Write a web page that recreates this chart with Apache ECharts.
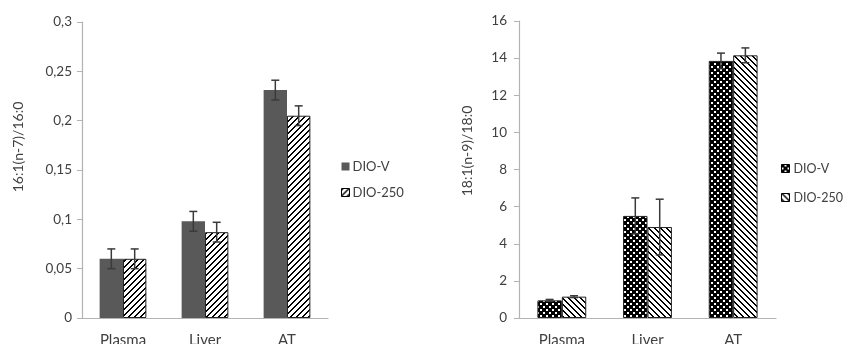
<!DOCTYPE html>
<html>
<head>
<meta charset="utf-8">
<script src="https://cdn.jsdelivr.net/npm/echarts@6/dist/echarts.min.js"></script>
<style>
  html, body { margin: 0; padding: 0; background: #fff; }
  #chart { width: 843px; height: 344px; }
</style>
</head>
<body>
<div id="chart"></div>
<script>
// Tissue categories shared by both panels
var categories = ['Plasma', 'Liver', 'AT'];
var seriesNames = ['DIO-V', 'DIO-250'];

// Panel A: 16:1(n-7)/16:0 desaturation index
var ratio16V = [0.060, 0.098, 0.231];
var ratio16V_err = [0.010, 0.010, 0.010];
var ratio16D = [0.060, 0.087, 0.205];
var ratio16D_err = [0.010, 0.010, 0.010];
var ticks16 = [0, 0.05, 0.1, 0.15, 0.2, 0.25, 0.3];

// Panel B: 18:1(n-9)/18:0 desaturation index
var ratio18V = [0.95, 5.5, 13.85];
var ratio18V_err = [0.05, 0.97, 0.42];
var ratio18D = [1.15, 4.9, 14.15];
var ratio18D_err = [0.05, 1.5, 0.40];
var ticks18 = [0, 2, 4, 6, 8, 10, 12, 14, 16];

// ---- fill patterns ----
function makeTile(size, fn) {
  var c = document.createElement('canvas');
  c.width = size; c.height = size;
  var ctx = c.getContext('2d');
  ctx.fillStyle = '#ffffff';
  ctx.fillRect(0, 0, size, size);
  ctx.fillStyle = '#000000';
  for (var y = 0; y < size; y++) {
    for (var x = 0; x < size; x++) {
      if (fn(x, y, size)) ctx.fillRect(x, y, 1, 1);
    }
  }
  return { image: c, repeat: 'repeat' };
}
// upward diagonal stripes ("/")
var stripeUp = makeTile(6, function (x, y, s) { return ((x + y) % s) < 2; });
// downward diagonal stripes ("\")
var stripeDown = makeTile(6, function (x, y, s) { return ((x - y + s * 4) % s) < 2; });
// checkerboard, slightly heavier on black
var checker = makeTile(6, function (x, y) {
  var cx = Math.floor(x / 3), cy = Math.floor(y / 3);
  var white = ((cx + cy) % 2 === 1) && (x % 3 < 2) && (y % 3 < 2);
  return !white;
});

var solidGray = '#595959';
var axisGray = '#b3b3b3';
var textColor = '#404040';
var fontFam = 'Lato, "Open Sans", sans-serif';
var catGap = '43%';

function fmtComma(v) { return String(v).replace('.', ','); }

function errorSeries(name, xIdx, values, errs, slot) {
  var data = values.map(function (v, i) { return [i, v, errs[i]]; });
  return {
    type: 'custom',
    name: name + ' err',
    xAxisIndex: xIdx,
    yAxisIndex: xIdx,
    z: 10,
    silent: true,
    encode: { x: 0, y: 1 },
    data: data,
    renderItem: function (params, api) {
      var ci = api.value(0);
      var v = api.value(1);
      var e = api.value(2);
      var center = api.coord([ci, v]);
      var catW = api.size([1, 0])[0];
      var bw = catW * 0.57 / 2;
      var x = center[0] + (slot === 0 ? -bw / 2 : bw / 2);
      var hi = api.coord([ci, v + e])[1];
      var lo = api.coord([ci, v - e])[1];
      var cap = 4;
      var st = { stroke: '#3a3a3a', lineWidth: 1.5 };
      return {
        type: 'group',
        children: [
          { type: 'line', shape: { x1: x, y1: hi, x2: x, y2: lo }, style: st },
          { type: 'line', shape: { x1: x - cap, y1: hi, x2: x + cap, y2: hi }, style: st },
          { type: 'line', shape: { x1: x - cap, y1: lo, x2: x + cap, y2: lo }, style: st }
        ]
      };
    }
  };
}

function xAxisDef(gi) {
  return {
    type: 'category',
    gridIndex: gi,
    data: categories,
    axisLine: { lineStyle: { color: axisGray, width: 1.2 } },
    axisTick: { show: false },
    axisLabel: { color: textColor, fontSize: 15, fontFamily: fontFam, margin: 15 }
  };
}

function yAxisDef(gi, ticks, fmt, margin) {
  return {
    type: 'value',
    gridIndex: gi,
    min: ticks[0],
    max: ticks[ticks.length - 1],
    interval: ticks[1] - ticks[0],
    splitLine: { show: false },
    axisLine: { show: true, lineStyle: { color: axisGray, width: 1.2 } },
    axisTick: { show: true, length: 5, lineStyle: { color: axisGray } },
    axisLabel: { color: textColor, fontSize: 13.5, fontFamily: fontFam, margin: margin, formatter: fmt }
  };
}

var chart = echarts.init(document.getElementById('chart'), null, { renderer: 'canvas' });

var option = {
  animation: false,
  backgroundColor: '#ffffff',
  grid: [
    { left: 82, top: 22, width: 246, height: 296, outerBoundsMode: 'none', containLabel: false },
    { left: 519, top: 21, width: 257, height: 297, outerBoundsMode: 'none', containLabel: false }
  ],
  xAxis: [xAxisDef(0), xAxisDef(1)],
  yAxis: [
    yAxisDef(0, ticks16, function (v) { return fmtComma(Math.round(v * 100) / 100); }, 10),
    yAxisDef(1, ticks18, function (v) { return String(v); }, 12)
  ],
  legend: [
    {
      orient: 'vertical', left: 341, top: 160, padding: 0,
      itemWidth: 8, itemHeight: 8, itemGap: 13, icon: 'rect',
      textStyle: { color: textColor, fontSize: 13, fontFamily: fontFam, padding: [0, 0, 0, -2] },
      data: [
        { name: seriesNames[0], itemStyle: { color: solidGray, borderWidth: 0 } },
        { name: seriesNames[1], itemStyle: { color: stripeUp, borderColor: '#000', borderWidth: 1 } }
      ]
    },
    {
      orient: 'vertical', left: 781, top: 162, padding: 0,
      itemWidth: 8, itemHeight: 8, itemGap: 16, icon: 'rect',
      textStyle: { color: textColor, fontSize: 12.5, fontFamily: fontFam, padding: [0, 0, 0, -1] },
      data: [
        { name: seriesNames[0], itemStyle: { color: checker, borderColor: '#000', borderWidth: 1 } },
        { name: seriesNames[1], itemStyle: { color: stripeDown, borderColor: '#000', borderWidth: 1 } }
      ]
    }
  ],
  graphic: [
    {
      type: 'text', x: 18, y: 147, rotation: Math.PI / 2,
      style: { text: '16:1(n-7)/16:0', fill: textColor, fontSize: 14, fontFamily: fontFam, align: 'center', verticalAlign: 'middle' }
    },
    {
      type: 'text', x: 467, y: 151, rotation: Math.PI / 2,
      style: { text: '18:1(n-9)/18:0', fill: textColor, fontSize: 14, fontFamily: fontFam, align: 'center', verticalAlign: 'middle' }
    }
  ],
  series: [
    {
      type: 'bar', name: seriesNames[0], xAxisIndex: 0, yAxisIndex: 0,
      data: ratio16V, barGap: 0, barCategoryGap: catGap,
      itemStyle: { color: solidGray }
    },
    {
      type: 'bar', name: seriesNames[1], xAxisIndex: 0, yAxisIndex: 0,
      data: ratio16D, barGap: 0, barCategoryGap: catGap,
      itemStyle: { color: stripeUp, borderColor: '#222', borderWidth: 1 }
    },
    {
      type: 'bar', name: seriesNames[0], xAxisIndex: 1, yAxisIndex: 1,
      data: ratio18V, barGap: 0, barCategoryGap: catGap,
      itemStyle: { color: checker, borderColor: '#222', borderWidth: 1 }
    },
    {
      type: 'bar', name: seriesNames[1], xAxisIndex: 1, yAxisIndex: 1,
      data: ratio18D, barGap: 0, barCategoryGap: catGap,
      itemStyle: { color: stripeDown, borderColor: '#222', borderWidth: 1 }
    },
    errorSeries('DIO-V A', 0, ratio16V, ratio16V_err, 0),
    errorSeries('DIO-250 A', 0, ratio16D, ratio16D_err, 1),
    errorSeries('DIO-V B', 1, ratio18V, ratio18V_err, 0),
    errorSeries('DIO-250 B', 1, ratio18D, ratio18D_err, 1)
  ]
};

chart.setOption(option);
</script>
</body>
</html>
